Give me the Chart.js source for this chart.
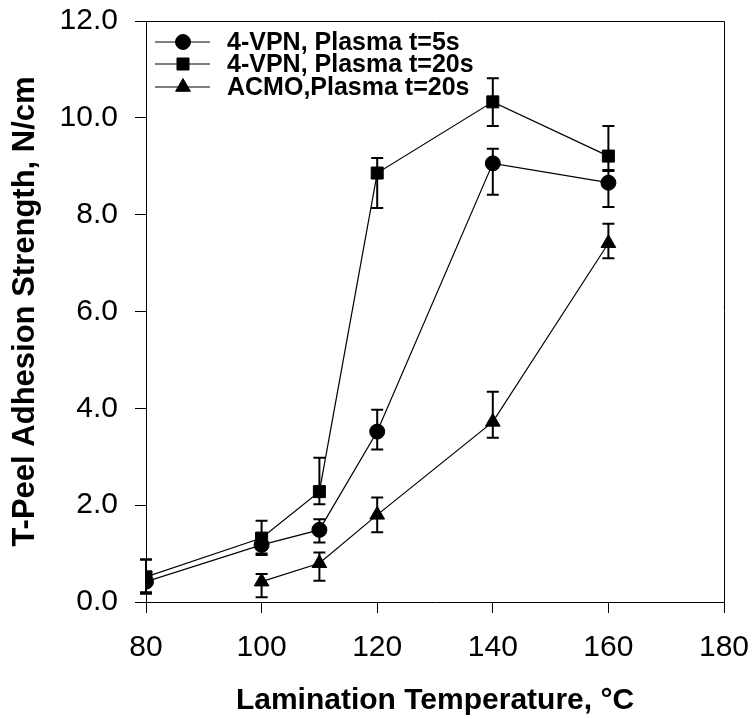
<!DOCTYPE html>
<html lang="en">
<head>
<meta charset="UTF-8">
<title>T-Peel Adhesion Strength</title>
<script src="https://cdn.jsdelivr.net/npm/chart.js@4.4.1/dist/chart.umd.min.js"></script>
<style>
  html, body { margin: 0; padding: 0; background: #fff; }
  #wrap { width: 752px; height: 719px; }
</style>
</head>
<body>
<div id="wrap"><canvas id="peelChart"></canvas></div>
<script>
// datos
const xTicks = [80, 100, 120, 140, 160, 180];
const yTicks = [0, 2, 4, 6, 8, 10, 12];

const temps5s = [80, 100, 110, 120, 140, 160];
const vpn5s = [0.42, 1.18, 1.49, 3.52, 9.06, 8.66];
const vpn5sHi = [0.88, 1.40, 1.71, 3.97, 9.36, 8.90];
const vpn5sLo = [0.17, 0.97, 1.23, 3.15, 8.41, 8.16];

const temps20s = [80, 100, 110, 120, 140, 160];
const vpn20s = [0.52, 1.32, 2.28, 8.86, 10.33, 9.21];
const vpn20sHi = [0.88, 1.68, 2.98, 9.17, 10.82, 9.83];
const vpn20sLo = [0.20, 1.00, 2.02, 8.14, 9.83, 8.92];

const tempsAcmo = [100, 110, 120, 140, 160];
const acmo = [0.42, 0.80, 1.80, 3.72, 7.41];
const acmoHi = [0.58, 1.02, 2.16, 4.34, 7.81];
const acmoLo = [0.10, 0.44, 1.44, 3.39, 7.10];

const seriesNames = ['4-VPN, Plasma t=5s', '4-VPN, Plasma t=20s', 'ACMO,Plasma t=20s'];
const seriesStyles = ['circle', 'rect', 'triangle'];
const seriesRadius = [7.5, 8.5, 8.5];

function toPoints(xs, ys) {
    return xs.map((x, i) => ({ x: x, y: ys[i] }));
}

const errorSets = [
    { xs: temps5s, hi: vpn5sHi, lo: vpn5sLo },
    { xs: temps20s, hi: vpn20sHi, lo: vpn20sLo },
    { xs: tempsAcmo, hi: acmoHi, lo: acmoLo }
];

const errorBars = {
    id: 'errorBars',
    beforeDatasetsDraw(chart) {
        const ctx = chart.ctx;
        const xs = chart.scales.x;
        const ys = chart.scales.y;
        ctx.save();
        ctx.strokeStyle = '#000';
        ctx.lineWidth = 2;
        errorSets.forEach(set => {
            set.xs.forEach((x, i) => {
                const px = xs.getPixelForValue(x);
                const top = ys.getPixelForValue(set.hi[i]);
                const bot = ys.getPixelForValue(set.lo[i]);
                ctx.beginPath();
                ctx.moveTo(px, top); ctx.lineTo(px, bot);
                ctx.moveTo(px - 6, top); ctx.lineTo(px + 6, top);
                ctx.moveTo(px - 6, bot); ctx.lineTo(px + 6, bot);
                ctx.stroke();
            });
        });
        ctx.restore();
    },
    afterDraw(chart) {
        const ctx = chart.ctx;
        const a = chart.chartArea;
        ctx.save();
        // marco superior y derecho
        ctx.strokeStyle = '#000';
        ctx.lineWidth = 1;
        ctx.beginPath();
        ctx.moveTo(a.left, a.top + 0.5);
        ctx.lineTo(a.right + 0.5, a.top + 0.5);
        ctx.lineTo(a.right + 0.5, a.bottom);
        ctx.stroke();

        // leyenda
        const rows = [42, 64, 87];
        ctx.font = 'bold 25px "Liberation Sans", Arial, sans-serif';
        ctx.textBaseline = 'middle';
        ctx.fillStyle = '#000';
        rows.forEach((y, i) => {
            ctx.lineWidth = 1.2;
            ctx.beginPath();
            ctx.moveTo(155, y); ctx.lineTo(210, y);
            ctx.stroke();
            ctx.lineWidth = 1;
            Chart.helpers.drawPoint(ctx, {
                pointStyle: seriesStyles[i],
                radius: seriesRadius[i],
                rotation: 0,
                borderWidth: 1
            }, 183, y);
            ctx.fillText(seriesNames[i], 227, y + 1);
        });
        ctx.restore();
    }
};

function makeDataset(i, xs, ys) {
    return {
        label: seriesNames[i],
        data: toPoints(xs, ys),
        showLine: true,
        borderColor: '#000',
        borderWidth: 1.2,
        backgroundColor: '#000',
        pointStyle: seriesStyles[i],
        pointRadius: seriesRadius[i],
        pointBorderWidth: 1,
        pointBackgroundColor: '#000',
        pointBorderColor: '#000',
        tension: 0
    };
}

const tickFont = { family: '"Liberation Sans", Arial, sans-serif', size: 30 };
const xTitleFont = { family: '"Liberation Sans", Arial, sans-serif', size: 30, weight: 'bold' };
const yTitleFont = { family: '"Liberation Sans", Arial, sans-serif', size: 31, weight: 'bold' };

new Chart(document.getElementById('peelChart'), {
    type: 'scatter',
    data: {
        datasets: [
            makeDataset(0, temps5s, vpn5s),
            makeDataset(1, temps20s, vpn20s),
            makeDataset(2, tempsAcmo, acmo)
        ]
    },
    options: {
        responsive: true,
        maintainAspectRatio: false,
        animation: false,
        layout: { padding: { top: 21, right: 28, left: 0, bottom: 0 } },
        plugins: { legend: { display: false }, tooltip: { enabled: false } },
        scales: {
            x: {
                type: 'linear',
                min: xTicks[0],
                max: xTicks[xTicks.length - 1],
                afterBuildTicks: s => { s.ticks = xTicks.map(v => ({ value: v })); },
                afterFit: s => { s.height = 117; s.paddingLeft = 0; s.paddingRight = 0; },
                ticks: { color: '#000', font: tickFont, padding: 17, maxRotation: 0 },
                grid: { drawOnChartArea: false, drawTicks: true, tickLength: 11, color: '#000', tickColor: '#000' },
                border: { display: true, color: '#000', width: 1 },
                title: { display: true, text: 'Lamination Temperature, °C', color: '#000', font: xTitleFont, padding: { top: 0, bottom: 0 } }
            },
            y: {
                min: yTicks[0],
                max: yTicks[yTicks.length - 1],
                afterBuildTicks: s => { s.ticks = yTicks.map(v => ({ value: v })); },
                afterFit: s => { s.width = 146; s.paddingTop = 0; s.paddingBottom = 0; },
                ticks: { color: '#000', font: tickFont, padding: 17, callback: v => v.toFixed(1) },
                grid: { drawOnChartArea: false, drawTicks: true, tickLength: 11, color: '#000', tickColor: '#000' },
                border: { display: true, color: '#000', width: 1 },
                title: { display: true, text: 'T-Peel Adhesion Strength, N/cm', color: '#000', font: yTitleFont, padding: { top: 7, bottom: 0 } }
            }
        }
    },
    plugins: [errorBars]
});
</script>
</body>
</html>
